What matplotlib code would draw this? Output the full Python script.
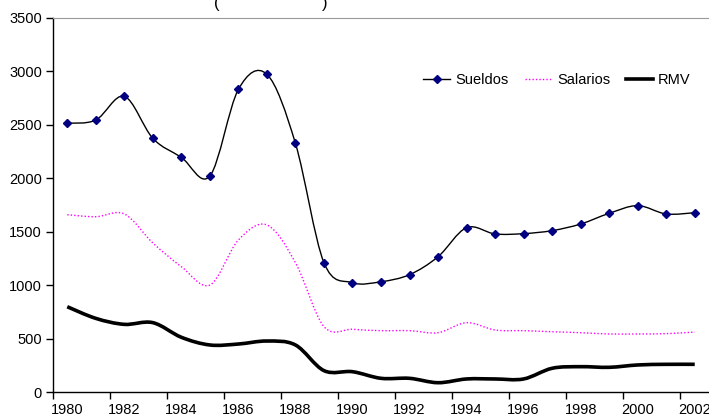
import numpy as np
import matplotlib
matplotlib.use("Agg")
import matplotlib.pyplot as plt
from matplotlib.path import Path
from matplotlib.patches import PathPatch
from matplotlib.lines import Line2D

plt.rcParams['font.family'] = ['Liberation Sans', 'DejaVu Sans']

years = list(range(1980, 2003))
sueldos = [2515, 2545, 2767, 2374, 2196, 2021, 2832, 2973, 2327, 1210, 1023, 1032,
           1098, 1266, 1538, 1479, 1482, 1510, 1572, 1672, 1744, 1666, 1678]
salarios = [1659, 1640, 1666, 1395, 1173, 1001, 1422, 1563, 1210, 612, 587, 574,
            574, 555, 649, 580, 574, 564, 555, 543, 543, 546, 561]
rmv = [798, 689, 633, 649, 512, 440, 449, 477, 440, 200, 190, 128,
       128, 87, 122, 122, 122, 222, 237, 231, 253, 259, 259]
tick_labels = [str(y) for y in range(1980, 2003, 2)]


def smooth_path(x, y):
    # Excel-style smoothed line: cubic Bezier segments through the points
    p = np.column_stack([x, y]).astype(float)
    pad = np.vstack([p[0], p, p[-1]])
    verts = [p[0]]
    codes = [Path.MOVETO]
    for i in range(len(p) - 1):
        p0, p1, p2, p3 = pad[i], pad[i + 1], pad[i + 2], pad[i + 3]
        c1 = p1 + (p2 - p0) / 6.0
        c2 = p2 - (p3 - p1) / 6.0
        verts += [c1, c2, p2]
        codes += [Path.CURVE4] * 3
    return Path(verts, codes)


fig = plt.figure(figsize=(7.09, 4.19), dpi=100)
ax = fig.add_axes([53 / 709, 1 - 392 / 419, 1 - 53 / 709, (392 - 18) / 419])

ax.add_patch(PathPatch(smooth_path(years, salarios), facecolor='none',
                       edgecolor='#ff00ff', lw=1.0, linestyle=(0, (1, 1.5))))
ax.add_patch(PathPatch(smooth_path(years, rmv), facecolor='none',
                       edgecolor='black', lw=2.6, capstyle='butt'))
ax.add_patch(PathPatch(smooth_path(years, sueldos), facecolor='none',
                       edgecolor='black', lw=1.0))
ax.plot(years, sueldos, linestyle='none', marker='D', markersize=4.5,
        color='#000080')

ax.set_xlim(1979.5, 2002.5)
ax.set_ylim(0, 3500)
ax.set_yticks(range(0, 3501, 500))
ax.set_xticks(np.arange(1979.5, 2002.5, 2))
ax.set_xticklabels([])
ax.set_xticks(range(1980, 2003, 2), minor=True)
ax.set_xticklabels(tick_labels, minor=True)
ax.tick_params(axis='x', which='minor', length=0, pad=8, labelsize=10.5)
ax.tick_params(axis='x', which='major', length=5, width=1, direction='out')
ax.tick_params(axis='y', length=5, width=1, direction='out', labelsize=10.5, pad=3)

ax.spines['right'].set_visible(False)
ax.spines['top'].set_color('#999999')
ax.spines['left'].set_linewidth(1)
ax.spines['bottom'].set_linewidth(1)

handles = [
    Line2D([], [], color='black', lw=1, marker='D', markersize=4,
           markerfacecolor='#000080', markeredgecolor='#000080'),
    Line2D([], [], color='#ff00ff', lw=1, linestyle=(0, (1, 1.5))),
    Line2D([], [], color='black', lw=2.6),
]
ax.legend(handles, ['Sueldos', 'Salarios', 'RMV'], ncol=3, frameon=False,
          loc='upper right', bbox_to_anchor=(0.99, 0.885), fontsize=10.5,
          handlelength=1.85, handletextpad=0.35, columnspacing=1.1,
          borderpad=0.3)

fig.text(217 / 709, 1 - 8 / 419, '(', fontsize=12, va='baseline', ha='center')
fig.text(325 / 709, 1 - 8 / 419, ')', fontsize=12, va='baseline', ha='center')

fig.savefig('out.png', dpi=100)
